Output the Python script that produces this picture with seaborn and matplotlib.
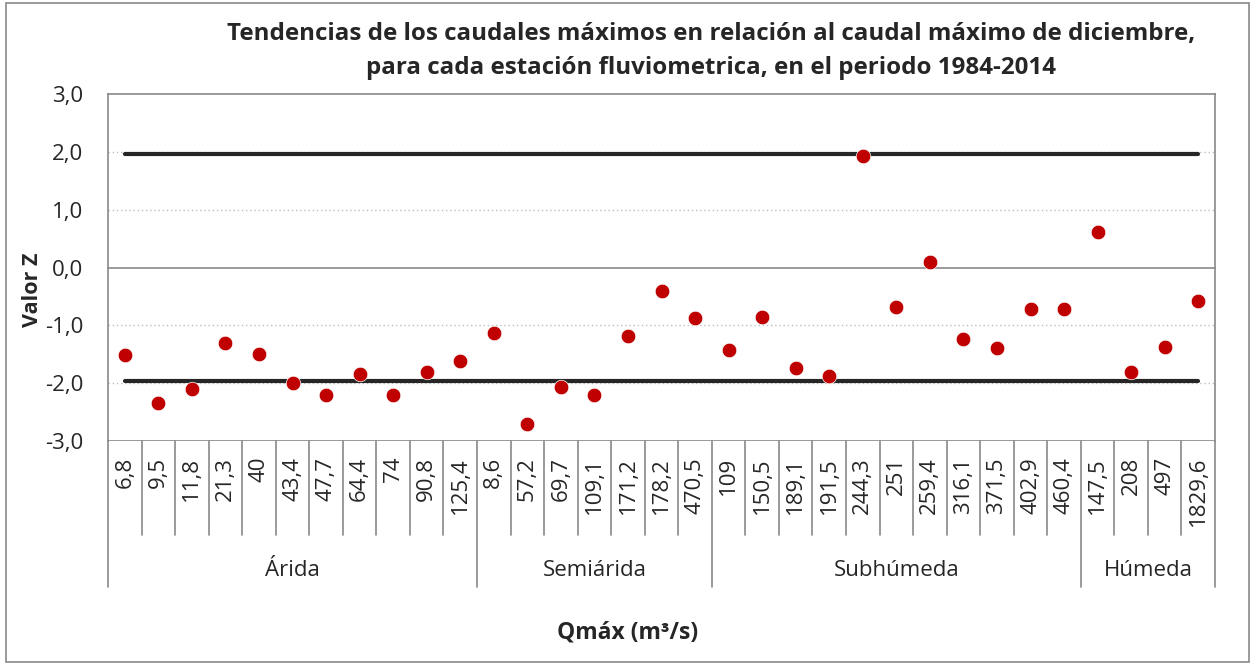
import numpy as np
import matplotlib
matplotlib.use("Agg")
import matplotlib.pyplot as plt
import seaborn as sns
import pandas as pd
from matplotlib import transforms
from matplotlib.patches import Rectangle

# caudales maximos (m3/s) por estacion y zona
qmax_labels = ["6,8", "9,5", "11,8", "21,3", "40", "43,4", "47,7", "64,4", "74", "90,8", "125,4",
               "8,6", "57,2", "69,7", "109,1", "171,2", "178,2", "470,5",
               "109", "150,5", "189,1", "191,5", "244,3", "251", "259,4", "316,1", "371,5", "402,9", "460,4",
               "147,5", "208", "497", "1829,6"]
valor_z = [-1.52, -2.34, -2.10, -1.30, -1.49, -1.99, -2.20, -1.85, -2.20, -1.80, -1.61,
           -1.13, -2.70, -2.06, -2.20, -1.18, -0.40, -0.87,
           -1.42, -0.85, -1.73, -1.87, 1.93, -0.68, 0.09, -1.23, -1.40, -0.71, -0.72,
           0.61, -1.80, -1.38, -0.58]
zonas = ["Árida", "Semiárida", "Subhúmeda", "Húmeda"]
n_por_zona = [11, 7, 11, 4]
z_limite = 1.96
y_ticks = [-3, -2, -1, 0, 1, 2, 3]
y_ticklabels = ["-3,0", "-2,0", "-1,0", "0,0", "1,0", "2,0", "3,0"]

sns.set_style("white")
plt.rcParams['font.family'] = ['Open Sans', 'DejaVu Sans']

n = len(valor_z)
df = pd.DataFrame({"pos": np.arange(n), "z": valor_z})
lim = pd.DataFrame({"pos": np.arange(n), "sup": [z_limite] * n, "inf": [-z_limite] * n})

fig = plt.figure(figsize=(12.56, 6.64), dpi=100)
ax = fig.add_axes([108 / 1256, 1 - 441 / 664, (1215 - 108) / 1256, (441 - 94) / 664])

grey = "#898989"
for y in [-2, -1, 1, 2]:
    ax.axhline(y, color="#bfbfbf", lw=1.0, ls=(0, (1, 2)), zorder=0)
ax.axhline(-3, color=grey, lw=1.2, zorder=1)

sns.lineplot(data=lim, x="pos", y="sup", ax=ax, color="#262626", lw=3, zorder=2)
sns.lineplot(data=lim, x="pos", y="inf", ax=ax, color="#262626", lw=3, zorder=2)
sns.scatterplot(data=df, x="pos", y="z", ax=ax, color="#c00000", s=110,
                edgecolor="white", linewidth=0.5, zorder=3)

ax.set_xlim(-0.5, n - 0.5)
ax.set_ylim(-3, 3)
ax.set_yticks(y_ticks)
ax.set_yticklabels(y_ticklabels, fontsize=16)
ax.set_xticks(np.arange(n + 1) - 0.5)
ax.set_xticklabels([])
ax.spines['bottom'].set_position(('data', 0))
for s in ax.spines.values():
    s.set_color(grey)
    s.set_linewidth(1.2)
ax.tick_params(axis="y", direction="out", length=5.8, width=1.2, color=grey, pad=12)
ax.tick_params(axis="x", direction="out", length=5.5, width=1.2, color=grey)
ax.set_xlabel("")
ax.set_ylabel("")

# tabla de etiquetas bajo el eje
tr = transforms.blended_transform_factory(ax.transData, fig.transFigure)
y_top = 1 - 441 / 664
y_mid = 1 - 535 / 664
y_bot = 1 - 587 / 664
for i, lab in enumerate(qmax_labels):
    ax.text(i, 1 - 457 / 664, lab, rotation=90, ha="center", va="top",
            fontsize=16, transform=tr, clip_on=False)
bounds = np.cumsum([0] + n_por_zona) - 0.5
for k in range(n + 1):
    x = k - 0.5
    yb = y_bot if x in bounds else y_mid
    ax.plot([x, x], [y_top, yb], color=grey, lw=1.2, transform=tr, clip_on=False)
for j, zona in enumerate(zonas):
    xc = (bounds[j] + bounds[j + 1]) / 2
    ax.text(xc, 1 - 570 / 664, zona, ha="center", va="center", fontsize=16,
            transform=tr, clip_on=False)

fig.text(711 / 1256, 1 - 51 / 664,
         "Tendencias de los caudales máximos en relación al caudal máximo de diciembre,\n"
         "para cada estación fluviometrica, en el periodo 1984-2014",
         ha="center", va="center", fontsize=17.4, fontweight="bold", linespacing=1.55)
fig.text(33 / 1256, 1 - 290 / 664, "Valor Z", rotation=90, ha="center", va="center",
         fontsize=15.5, fontweight="bold")
fig.text(628 / 1256, 1 - 632 / 664, "Qmáx (m³/s)", ha="center", va="center",
         fontsize=16.5, fontweight="bold")

fig.patches.append(Rectangle((6 / 1256, 2 / 664), 1243 / 1256, 659 / 664,
                             transform=fig.transFigure, fill=False,
                             edgecolor=grey, lw=1.2))

fig.savefig("out.png", dpi=100)
